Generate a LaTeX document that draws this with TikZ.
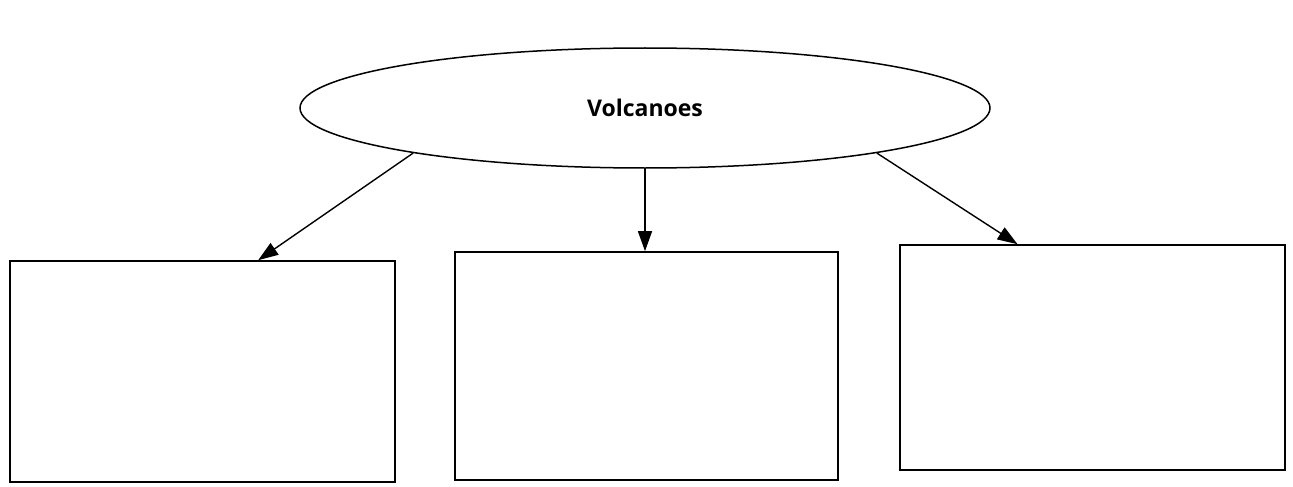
\documentclass[tikz,border=0pt]{standalone}
\usepackage{fontspec}
\newfontfamily\titrefont{Open Sans}
\usetikzlibrary{calc,shapes.geometric,positioning,arrows.meta}
\begin{document}
\begin{tikzpicture}[x=1pt,y=-1pt,
  boite/.style={draw, line width=1.6pt, inner sep=0pt, minimum width=385pt},
  fleche/.style={line width=1.4pt, -{Triangle[length=20pt,width=14pt]}}]
  \useasboundingbox (0,0) rectangle (1293,487);
  % Ellipse Volcanoes
  \node[ellipse, draw, line width=1.5pt, inner sep=0pt,
        minimum width=690pt, minimum height=120pt,
        font=\titrefont\bfseries\fontsize{23}{27}\selectfont] (volc) at (645,108) {Volcanoes};
  % Cases
  \node[boite, minimum height=221pt] (case1) at (202.5,371.5) {};
  \node[boite, minimum height=228pt, minimum width=383pt] (case2) at (646.5,366) {};
  \node[boite, minimum height=225pt] (case3) at (1092.5,357.5) {};
  % Fleches
  \draw[fleche] (volc.191) -- ($(case1.north west)!0.644!(case1.north east)$);
  \draw[fleche] (volc.south) -- (volc.south |- case2.north);
  \draw[fleche] (volc.349) -- ($(case3.north west)!0.306!(case3.north east)$);
\end{tikzpicture}
\end{document}
